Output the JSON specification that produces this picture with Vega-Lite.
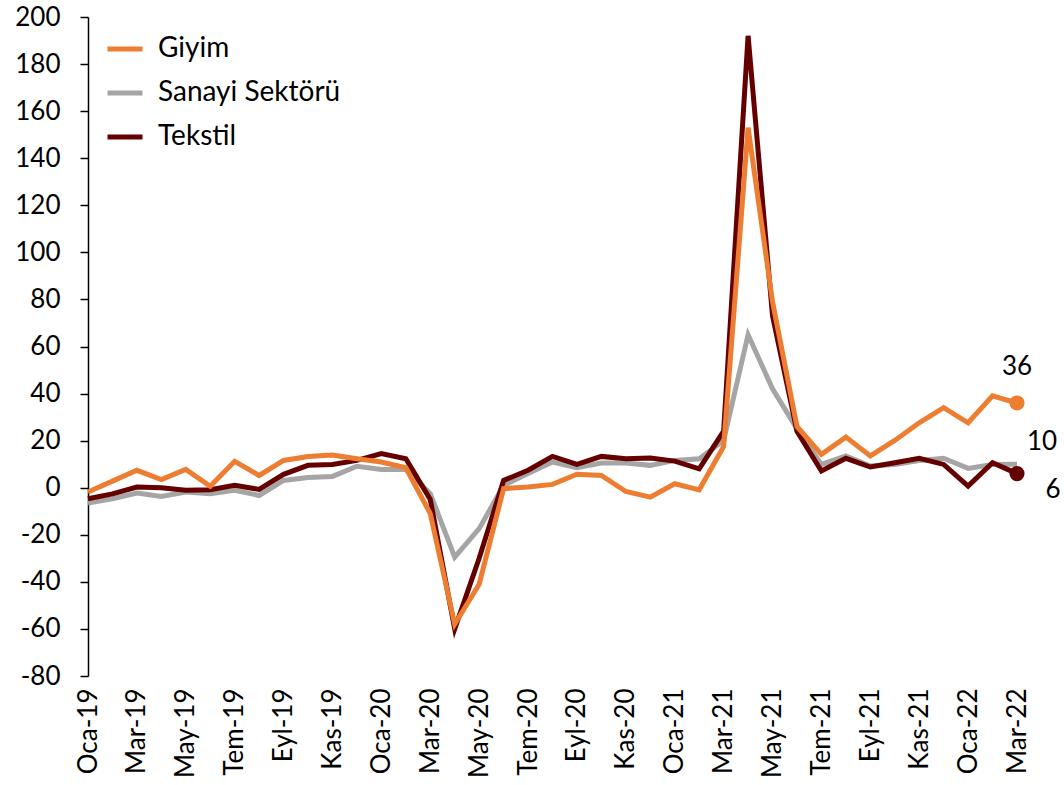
{
  "$schema": "https://vega.github.io/schema/vega-lite/v6.json",
  "width": 929,
  "height": 659,
  "autosize": "none",
  "padding": {"left": 88, "top": 17, "right": 47, "bottom": 109},
  "background": "white",
  "config": {"view": {"stroke": null}, "font": "Lato"},
  "data": {"values": [
    {"ay": "Oca-19", "Giyim": -1.8, "Sanayi Sektörü": -6.5, "Tekstil": -4.7},
    {"ay": "Şub-19", "Giyim": 2.8, "Sanayi Sektörü": -4.7, "Tekstil": -2.6},
    {"ay": "Mar-19", "Giyim": 7.4, "Sanayi Sektörü": -2.3, "Tekstil": 0.3},
    {"ay": "Nis-19", "Giyim": 3.5, "Sanayi Sektörü": -3.7, "Tekstil": 0},
    {"ay": "May-19", "Giyim": 7.8, "Sanayi Sektörü": -1.8, "Tekstil": -1.1},
    {"ay": "Haz-19", "Giyim": 0.6, "Sanayi Sektörü": -2.6, "Tekstil": -0.9},
    {"ay": "Tem-19", "Giyim": 11.2, "Sanayi Sektörü": -1.1, "Tekstil": 1},
    {"ay": "Ağu-19", "Giyim": 5.2, "Sanayi Sektörü": -3.3, "Tekstil": -0.7},
    {"ay": "Eyl-19", "Giyim": 11.6, "Sanayi Sektörü": 3.1, "Tekstil": 5.7},
    {"ay": "Eki-19", "Giyim": 13.3, "Sanayi Sektörü": 4.3, "Tekstil": 9.5},
    {"ay": "Kas-19", "Giyim": 13.9, "Sanayi Sektörü": 4.8, "Tekstil": 9.9},
    {"ay": "Ara-19", "Giyim": 12.3, "Sanayi Sektörü": 9.1, "Tekstil": 11.6},
    {"ay": "Oca-20", "Giyim": 10.9, "Sanayi Sektörü": 7.7, "Tekstil": 14.5},
    {"ay": "Şub-20", "Giyim": 8.5, "Sanayi Sektörü": 7.7, "Tekstil": 12.3},
    {"ay": "Mar-20", "Giyim": -11, "Sanayi Sektörü": -2.5, "Tekstil": -5},
    {"ay": "Nis-20", "Giyim": -58, "Sanayi Sektörü": -29.5, "Tekstil": -60},
    {"ay": "May-20", "Giyim": -41, "Sanayi Sektörü": -17.4, "Tekstil": -30},
    {"ay": "Haz-20", "Giyim": -0.4, "Sanayi Sektörü": 1, "Tekstil": 3.1},
    {"ay": "Tem-20", "Giyim": 0.3, "Sanayi Sektörü": 6, "Tekstil": 7.4},
    {"ay": "Ağu-20", "Giyim": 1.4, "Sanayi Sektörü": 10.9, "Tekstil": 13.3},
    {"ay": "Eyl-20", "Giyim": 5.7, "Sanayi Sektörü": 8.5, "Tekstil": 9.9},
    {"ay": "Eki-20", "Giyim": 5.2, "Sanayi Sektörü": 10.5, "Tekstil": 13.3},
    {"ay": "Kas-20", "Giyim": -1.6, "Sanayi Sektörü": 10.5, "Tekstil": 12.3},
    {"ay": "Ara-20", "Giyim": -4, "Sanayi Sektörü": 9.5, "Tekstil": 12.6},
    {"ay": "Oca-21", "Giyim": 1.7, "Sanayi Sektörü": 11.6, "Tekstil": 11.3},
    {"ay": "Şub-21", "Giyim": -0.9, "Sanayi Sektörü": 12.3, "Tekstil": 8},
    {"ay": "Mar-21", "Giyim": 17.5, "Sanayi Sektörü": 20, "Tekstil": 24},
    {"ay": "Nis-21", "Giyim": 153, "Sanayi Sektörü": 65, "Tekstil": 192},
    {"ay": "May-21", "Giyim": 79, "Sanayi Sektörü": 42, "Tekstil": 73},
    {"ay": "Haz-21", "Giyim": 26, "Sanayi Sektörü": 25, "Tekstil": 24},
    {"ay": "Tem-21", "Giyim": 14.2, "Sanayi Sektörü": 9.9, "Tekstil": 7.1},
    {"ay": "Ağu-21", "Giyim": 21.5, "Sanayi Sektörü": 13.5, "Tekstil": 12.5},
    {"ay": "Eyl-21", "Giyim": 13.5, "Sanayi Sektörü": 9.2, "Tekstil": 8.8},
    {"ay": "Eki-21", "Giyim": 20.1, "Sanayi Sektörü": 9.9, "Tekstil": 10.6},
    {"ay": "Kas-21", "Giyim": 27.6, "Sanayi Sektörü": 11.6, "Tekstil": 12.5},
    {"ay": "Ara-21", "Giyim": 34, "Sanayi Sektörü": 12.5, "Tekstil": 9.9},
    {"ay": "Oca-22", "Giyim": 27.6, "Sanayi Sektörü": 8.2, "Tekstil": 0.7},
    {"ay": "Şub-22", "Giyim": 39, "Sanayi Sektörü": 9.9, "Tekstil": 10.6},
    {"ay": "Mar-22", "Giyim": 36, "Sanayi Sektörü": 10, "Tekstil": 6}
  ]},
  "transform": [{"fold": ["Sanayi Sektörü", "Tekstil", "Giyim"], "as": ["seri", "deger"]}],
  "encoding": {
    "x": {
      "field": "ay", "type": "ordinal", "sort": null,
      "scale": {"type": "point", "padding": 0},
      "axis": {
        "title": null, "domain": false, "ticks": false, "grid": false,
        "labelAngle": -90, "labelFontSize": 26, "labelPadding": 12, "labelColor": "black",
        "values": ["Oca-19", "Mar-19", "May-19", "Tem-19", "Eyl-19", "Kas-19", "Oca-20", "Mar-20", "May-20", "Tem-20", "Eyl-20", "Kas-20", "Oca-21", "Mar-21", "May-21", "Tem-21", "Eyl-21", "Kas-21", "Oca-22", "Mar-22"]
      }
    },
    "y": {
      "field": "deger", "type": "quantitative",
      "scale": {"domain": [-80, 200], "nice": false, "zero": false},
      "axis": {
        "title": null, "grid": false, "domainColor": "black", "domainWidth": 1.5,
        "tickColor": "black", "tickWidth": 1.5, "tickSize": 8,
        "values": [-80, -60, -40, -20, 0, 20, 40, 60, 80, 100, 120, 140, 160, 180, 200],
        "labelFontSize": 26, "labelPadding": 20, "labelColor": "black",
        "labelExpr": "datum.value < 0 ? '-' + abs(datum.value) : '' + datum.value"
      }
    }
  },
  "layer": [
    {
      "data": {"values": [{}]},
      "mark": {"type": "rule", "color": "black", "strokeWidth": 1.5},
      "encoding": {"x": null, "y": {"datum": 0}}
    },
    {
      "mark": {"type": "line", "strokeWidth": 5, "strokeJoin": "miter"},
      "encoding": {
        "color": {
          "field": "seri", "type": "nominal",
          "scale": {"domain": ["Giyim", "Sanayi Sektörü", "Tekstil"], "range": ["#ED7D31", "#A5A5A5", "#640000"]},
          "legend": {
            "title": null, "orient": "none", "legendX": 17, "legendY": 12,
            "symbolType": "stroke", "symbolSize": 1225, "symbolStrokeWidth": 5,
            "labelFontSize": 28, "labelOffset": 13, "labelColor": "black", "labelLimit": 400,
            "rowPadding": 10
          }
        }
      }
    },
    {
      "transform": [{"filter": "datum.ay == 'Mar-22' && datum.seri != 'Sanayi Sektörü'"}],
      "mark": {"type": "circle", "size": 230, "opacity": 1},
      "encoding": {
        "color": {"field": "seri", "type": "nominal", "legend": null}
      }
    },
    {
      "transform": [{"filter": "datum.ay == 'Mar-22' && datum.seri == 'Giyim'"}],
      "mark": {"type": "text", "fontSize": 26, "color": "black", "dy": -36},
      "encoding": {"text": {"field": "deger", "type": "quantitative", "format": "d"}}
    },
    {
      "transform": [{"filter": "datum.ay == 'Mar-22' && datum.seri == 'Sanayi Sektörü'"}],
      "mark": {"type": "text", "fontSize": 26, "color": "black", "dx": 25, "dy": -22},
      "encoding": {"text": {"field": "deger", "type": "quantitative", "format": "d"}}
    },
    {
      "transform": [{"filter": "datum.ay == 'Mar-22' && datum.seri == 'Tekstil'"}],
      "mark": {"type": "text", "fontSize": 26, "color": "black", "dx": 36, "dy": 16},
      "encoding": {"text": {"field": "deger", "type": "quantitative", "format": "d"}}
    }
  ]
}
